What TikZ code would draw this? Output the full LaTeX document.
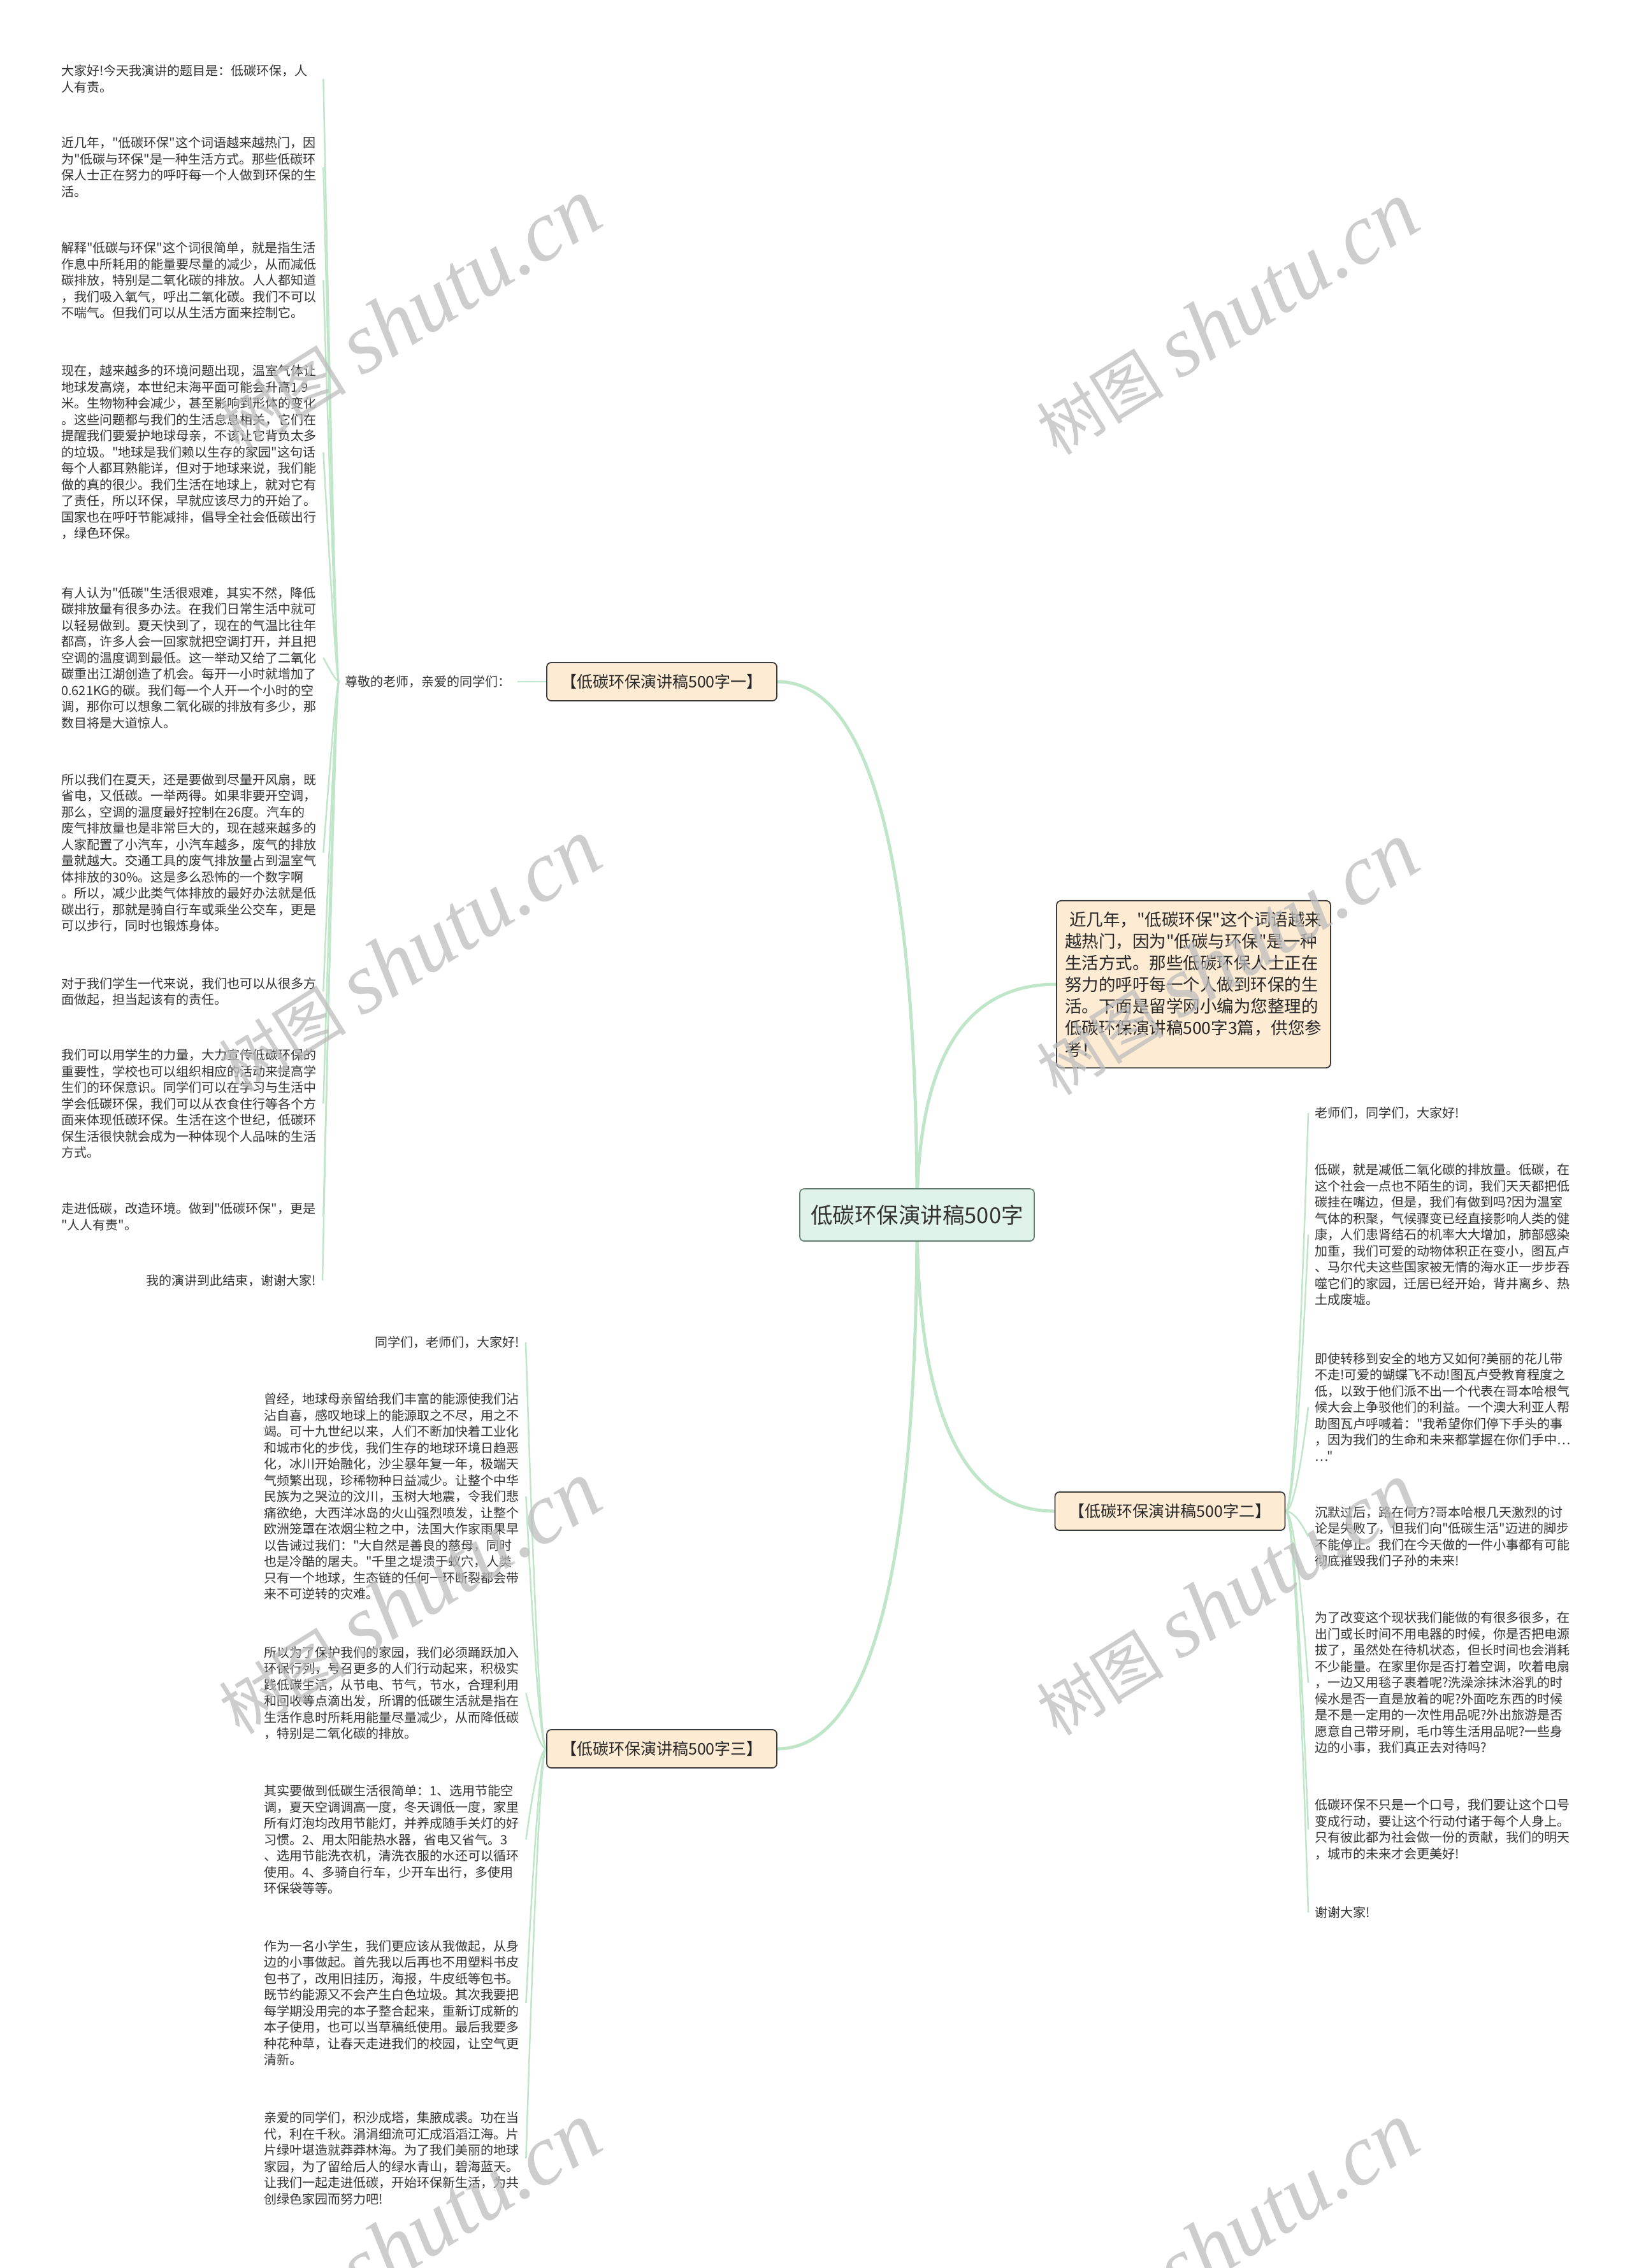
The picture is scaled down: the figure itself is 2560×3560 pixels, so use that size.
\documentclass[tikz,border=0pt]{standalone}
\usepackage{fontspec}
\setmainfont{Noto Sans CJK SC}[Ligatures=TeXOff]
\newfontfamily\wmserif{Liberation Serif}
\usetikzlibrary{calc}
\definecolor{lnk}{HTML}{BFE6C8}
\definecolor{rootfill}{HTML}{E0F3EA}
\definecolor{rootdraw}{HTML}{5E7D6E}
\definecolor{brfill}{HTML}{FDEBD3}
\definecolor{brdraw}{HTML}{3A3A3A}
\definecolor{txt}{HTML}{333333}
\definecolor{wmc}{HTML}{BDBDBD}
\pgfdeclarelayer{background}
\pgfdeclarelayer{foreground}
\pgfsetlayers{background,main,foreground}
\tikzset{
 leaf/.style={font=\fontsize{20}{25.5}\selectfont, text=txt, inner xsep=10pt, inner ysep=2pt, align=left, text width=401pt},
 leafr/.style={font=\fontsize{20}{25.5}\selectfont, text=txt, inner xsep=10pt, inner ysep=2pt},
 branch/.style={draw=brdraw, line width=1.8pt, fill=brfill, rounded corners=7pt, minimum width=361pt, minimum height=60pt, inner sep=0pt, font=\fontsize{25}{30}\selectfont, text=black!85},
 rootbox/.style={draw=rootdraw, line width=1.8pt, fill=rootfill, rounded corners=7pt, minimum width=368pt, minimum height=82pt, inner sep=0pt, font=\fontsize{34.5}{40}\selectfont, text=black!80},
 intro/.style={draw=brdraw, line width=1.8pt, fill=brfill, rounded corners=7pt, text width=404pt, inner xsep=13pt, inner ysep=17pt, align=left, font=\fontsize{26.5}{34}\selectfont, text=black!85},
 mainlink/.style={draw=lnk, line width=5pt},
 sublink/.style={draw=lnk, line width=2.5pt},
 wm/.style={rotate=32, text=wmc, opacity=0.75, inner sep=0pt}
}
\newcommand\sublk[3]{%
  \coordinate (qq) at ($(#2 |- #1)+(#3,0)$);
  \draw[sublink] (#1) .. controls ($(#1)!0.6667!(qq)$) and ($(#2)!0.6667!(qq)$) .. (#2);
}
\newcommand\mainlk[2]{%
  \coordinate (qq) at (#1 |- #2);
  \draw[mainlink] (#1) .. controls ($(#1)!0.6667!(qq)$) and ($(#2)!0.6667!(qq)$) .. (#2);
}
\newcommand\wmark[1]{\node[wm] at (#1) {{\fontsize{100}{110}\selectfont 树图}\hspace{25pt}{\wmserif\itshape\fontsize{135}{140}\selectfont shutu.cn}};}
\begin{document}
\begin{tikzpicture}[x=1pt,y=-1pt]
\useasboundingbox (0,0) rectangle (2560,3560);
\begin{pgfonlayer}{background}
\fill[white] (0,0) rectangle (2560,3560);
\end{pgfonlayer}

% root and branches
\node[rootbox] (root) at (1439,1907) {低碳环保演讲稿500字};
\node[branch] (b1) at (1038.5,1070) {【低碳环保演讲稿500字一】};
\node[branch] (b2) at (1836,2372) {【低碳环保演讲稿500字二】};
\node[branch] (b3) at (1038.5,2745) {【低碳环保演讲稿500字三】};
\node[intro] (intro) at (1873,1545) {\hspace*{7pt}近几年，"低碳环保"这个词语越来\\越热门，因为"低碳与环保"是一种\\生活方式。那些低碳环保人士正在\\努力的呼吁每一个人做到环保的生\\活。下面是留学网小编为您整理的\\低碳环保演讲稿500字3篇，供您参\\考！};

% branch 1
\node[leafr, anchor=east] (zj) at (812,1070) {尊敬的老师，亲爱的同学们：};
\node[leaf, anchor=west] (a1) at (86,124) {大家好!今天我演讲的题目是：低碳环保，人\\人有责。};
\node[leaf, anchor=west] (a2) at (86,262.5) {近几年，"低碳环保"这个词语越来越热门，因\\为"低碳与环保"是一种生活方式。那些低碳环\\保人士正在努力的呼吁每一个人做到环保的生\\活。};
\node[leaf, anchor=west] (a3) at (86,440) {解释"低碳与环保"这个词很简单，就是指生活\\作息中所耗用的能量要尽量的减少，从而减低\\碳排放，特别是二氧化碳的排放。人人都知道\\，我们吸入氧气，呼出二氧化碳。我们不可以\\不喘气。但我们可以从生活方面来控制它。};
\node[leaf, anchor=west] (a4) at (86,710) {现在，越来越多的环境问题出现，温室气体让\\地球发高烧，本世纪末海平面可能会升高1.9\\米。生物物种会减少，甚至影响到形体的变化\\。这些问题都与我们的生活息息相关，它们在\\提醒我们要爱护地球母亲，不该让它背负太多\\的垃圾。"地球是我们赖以生存的家园"这句话\\每个人都耳熟能详，但对于地球来说，我们能\\做的真的很少。我们生活在地球上，就对它有\\了责任，所以环保，早就应该尽力的开始了。\\国家也在呼吁节能减排，倡导全社会低碳出行\\，绿色环保。};
\node[leaf, anchor=west] (a5) at (86,1032.5) {有人认为"低碳"生活很艰难，其实不然，降低\\碳排放量有很多办法。在我们日常生活中就可\\以轻易做到。夏天快到了，现在的气温比往年\\都高，许多人会一回家就把空调打开，并且把\\空调的温度调到最低。这一举动又给了二氧化\\碳重出江湖创造了机会。每开一小时就增加了\\0.621KG的碳。我们每一个人开一个小时的空\\调，那你可以想象二氧化碳的排放有多少，那\\数目将是大道惊人。};
\node[leaf, anchor=west] (a6) at (86,1338.5) {所以我们在夏天，还是要做到尽量开风扇，既\\省电，又低碳。一举两得。如果非要开空调，\\那么，空调的温度最好控制在26度。汽车的\\废气排放量也是非常巨大的，现在越来越多的\\人家配置了小汽车，小汽车越多，废气的排放\\量就越大。交通工具的废气排放量占到温室气\\体排放的30\%。这是多么恐怖的一个数字啊\\。所以，减少此类气体排放的最好办法就是低\\碳出行，那就是骑自行车或乘坐公交车，更是\\可以步行，同时也锻炼身体。};
\node[leaf, anchor=west] (a7) at (86,1556.5) {对于我们学生一代来说，我们也可以从很多方\\面做起，担当起该有的责任。};
\node[leaf, anchor=west] (a8) at (86,1732.5) {我们可以用学生的力量，大力宣传低碳环保的\\重要性，学校也可以组织相应的活动来提高学\\生们的环保意识。同学们可以在学习与生活中\\学会低碳环保，我们可以从衣食住行等各个方\\面来体现低碳环保。生活在这个世纪，低碳环\\保生活很快就会成为一种体现个人品味的生活\\方式。};
\node[leaf, anchor=west] (a9) at (86,1910) {走进低碳，改造环境。做到"低碳环保"，更是\\"人人有责"。};
\node[leafr, anchor=east] (a10) at (506,2010) {我的演讲到此结束，谢谢大家!};

% branch 2
\node[leafr, anchor=west] (c1) at (2053,1747) {老师们，同学们，大家好!};
\node[leaf, anchor=west] (c2) at (2053,1938) {低碳，就是减低二氧化碳的排放量。低碳，在\\这个社会一点也不陌生的词，我们天天都把低\\碳挂在嘴边，但是，我们有做到吗?因为温室\\气体的积聚，气候骤变已经直接影响人类的健\\康，人们患肾结石的机率大大增加，肺部感染\\加重，我们可爱的动物体积正在变小，图瓦卢\\、马尔代夫这些国家被无情的海水正一步步吞\\噬它们的家园，迁居已经开始，背井离乡、热\\土成废墟。};
\node[leaf, anchor=west] (c3) at (2053,2208.5) {即使转移到安全的地方又如何?美丽的花儿带\\不走!可爱的蝴蝶飞不动!图瓦卢受教育程度之\\低，以致于他们派不出一个代表在哥本哈根气\\候大会上争驳他们的利益。一个澳大利亚人帮\\助图瓦卢呼喊着："我希望你们停下手头的事\\，因为我们的生命和未来都掌握在你们手中…\\…"};
\node[leaf, anchor=west] (c4) at (2053,2412) {沉默过后，路在何方?哥本哈根几天激烈的讨\\论是失败了，但我们向"低碳生活"迈进的脚步\\不能停止。我们在今天做的一件小事都有可能\\彻底摧毁我们子孙的未来!};
\node[leaf, anchor=west] (c5) at (2053,2641.5) {为了改变这个现状我们能做的有很多很多，在\\出门或长时间不用电器的时候，你是否把电源\\拔了，虽然处在待机状态，但长时间也会消耗\\不少能量。在家里你是否打着空调，吹着电扇\\，一边又用毯子裹着呢?洗澡涂抹沐浴乳的时\\候水是否一直是放着的呢?外面吃东西的时候\\是不是一定用的一次性用品呢?外出旅游是否\\愿意自己带牙刷，毛巾等生活用品呢?一些身\\边的小事，我们真正去对待吗?};
\node[leaf, anchor=west] (c6) at (2053,2871.5) {低碳环保不只是一个口号，我们要让这个口号\\变成行动，要让这个行动付诸于每个人身上。\\只有彼此都为社会做一份的贡献，我们的明天\\，城市的未来才会更美好!};
\node[leafr, anchor=west] (c7) at (2053,3002) {谢谢大家!};

% branch 3
\node[leafr, anchor=east] (d1) at (825,2107) {同学们，老师们，大家好!};
\node[leaf, anchor=west] (d2) at (404,2349) {曾经，地球母亲留给我们丰富的能源使我们沾\\沾自喜，感叹地球上的能源取之不尽，用之不\\竭。可十九世纪以来，人们不断加快着工业化\\和城市化的步伐，我们生存的地球环境日趋恶\\化，冰川开始融化，沙尘暴年复一年，极端天\\气频繁出现，珍稀物种日益减少。让整个中华\\民族为之哭泣的汶川，玉树大地震，令我们悲\\痛欲绝，大西洋冰岛的火山强烈喷发，让整个\\欧洲笼罩在浓烟尘粒之中，法国大作家雨果早\\以告诫过我们："大自然是善良的慈母，同时\\也是冷酷的屠夫。"千里之堤溃于蚁穴，人类\\只有一个地球，生态链的任何一环断裂都会带\\来不可逆转的灾难。};
\node[leaf, anchor=west] (d3) at (404,2657.5) {所以为了保护我们的家园，我们必须踊跃加入\\环保行列，号召更多的人们行动起来，积极实\\践低碳生活，从节电、节气，节水，合理利用\\和回收等点滴出发，所谓的低碳生活就是指在\\生活作息时所耗用能量尽量减少，从而降低碳\\，特别是二氧化碳的排放。};
\node[leaf, anchor=west] (d4) at (404,2887.5) {其实要做到低碳生活很简单：1、选用节能空\\调，夏天空调调高一度，冬天调低一度，家里\\所有灯泡均改用节能灯，并养成随手关灯的好\\习惯。2、用太阳能热水器，省电又省气。3\\、选用节能洗衣机，清洗衣服的水还可以循环\\使用。4、多骑自行车，少开车出行，多使用\\环保袋等等。};
\node[leaf, anchor=west] (d5) at (404,3144) {作为一名小学生，我们更应该从我做起，从身\\边的小事做起。首先我以后再也不用塑料书皮\\包书了，改用旧挂历，海报，牛皮纸等包书。\\既节约能源又不会产生白色垃圾。其次我要把\\每学期没用完的本子整合起来，重新订成新的\\本子使用，也可以当草稿纸使用。最后我要多\\种花种草，让春天走进我们的校园，让空气更\\清新。};
\node[leaf, anchor=west] (d6) at (404,3388) {亲爱的同学们，积沙成塔，集腋成裘。功在当\\代，利在千秋。涓涓细流可汇成滔滔江海。片\\片绿叶堪造就莽莽林海。为了我们美丽的地球\\家园，为了留给后人的绿水青山，碧海蓝天。\\让我们一起走进低碳，开始环保新生活，为共\\创绿色家园而努力吧!};

% connectors
\begin{pgfonlayer}{background}
\mainlk{root.center}{b1.east}
\mainlk{root.center}{intro.west}
\mainlk{root.center}{b2.west}
\mainlk{root.center}{b3.east}
\draw[sublink] (b1.west) -- (zj.east);
\foreach \c in {a1,a2,a3,a4,a5,a6,a7,a8,a9,a10} {\sublk{zj.west}{\c.east}{20}}
\foreach \c in {c1,c2,c3,c4,c5,c6,c7} {\sublk{b2.east}{\c.west}{-20}}
\foreach \c in {d1,d2,d3,d4,d5,d6} {\sublk{b3.west}{\c.east}{20}}
\end{pgfonlayer}

% watermarks
\begin{pgfonlayer}{foreground}
\wmark{642,495}
\wmark{1925,500}
\wmark{642,1500}
\wmark{1925,1505}
\wmark{642,2508}
\wmark{1925,2510}
\wmark{642,3515}
\wmark{1925,3515}
\end{pgfonlayer}
\end{tikzpicture}
\end{document}
